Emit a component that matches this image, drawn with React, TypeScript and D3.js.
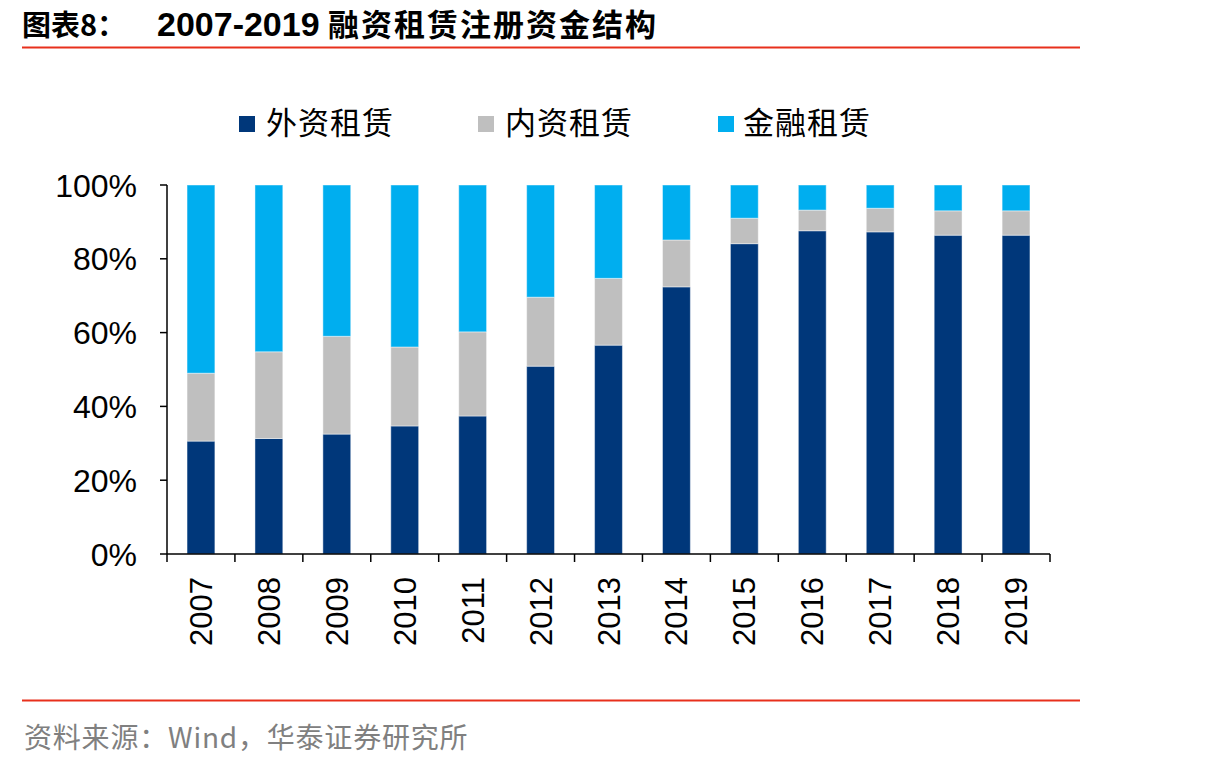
import React from "react";
import * as d3 from "d3";

const years = ["2007","2008","2009","2010","2011","2012","2013","2014","2015","2016","2017","2018","2019"];
const foreignLease = [30.6, 31.3, 32.5, 34.7, 37.4, 50.9, 56.6, 72.4, 84.1, 87.6, 87.3, 86.4, 86.4];
const domesticLease = [18.4, 23.5, 26.5, 21.4, 22.8, 18.7, 18.1, 12.7, 6.9, 5.6, 6.4, 6.6, 6.6];
const financeLease = [51.0, 45.2, 41.0, 43.9, 39.8, 30.4, 25.3, 14.9, 9.0, 6.8, 6.3, 7.0, 7.0];
const seriesNames = ["外资租赁", "内资租赁", "金融租赁"];
const seriesColors = ["#00377A", "#BFBFBF", "#00AEEF"];
const yTicks = [0, 0.2, 0.4, 0.6, 0.8, 1.0];
const titleLabel = "图表8：";
const titleYears = "2007-2019";
const titleText = "融资租赁注册资金结构";
const sourceText = "资料来源：Wind，华泰证券研究所";

export default function App() {
  const W = 1210, H = 768;
  const x0 = 167, x1 = 1050, yTop = 185, yBot = 554;
  const x = d3.scaleBand<string>().domain(years).range([x0, x1]).paddingInner(0.59).paddingOuter(0.295);
  const y = d3.scaleLinear().domain([0, 1]).range([yBot, yTop]);
  const fmt = d3.format(".0%");

  const rows = years.map((yr, i) => ({
    year: yr,
    s0: foreignLease[i],
    s1: domesticLease[i],
    s2: financeLease[i],
  }));
  const stack = d3.stack<any>().keys(["s0", "s1", "s2"]).offset(d3.stackOffsetExpand);
  const layers = stack(rows);

  const gap = (x.step() - x.bandwidth()) / 2;
  const tickXs = years.map((c) => (x(c) as number) - gap).concat([x1]);

  const legendItems = [
    { sx: 239, tx: 266 },
    { sx: 478, tx: 505 },
    { sx: 718, tx: 743 },
  ];

  return (
    <svg width={W} height={H} style={{ position: "absolute", left: 0, top: 0, background: "#fff" }}>
      {/* Title */}
      <text x={22} y={36} fontFamily="'Noto Sans CJK SC', sans-serif" fontWeight="bold" fontSize={29} fill="#000">{titleLabel}</text>
      <text x={157} y={36} fontFamily="'Liberation Sans', Arial, sans-serif" fontWeight="bold" fontSize={34} fill="#000">{titleYears}</text>
      <text x={328} y={36} fontFamily="'Noto Sans CJK SC', sans-serif" fontWeight="bold" fontSize={31} letterSpacing={2} fill="#000">{titleText}</text>
      <line x1={22} x2={1080} y1={47.5} y2={47.5} stroke="#E8301C" strokeWidth={2} />

      {/* Legend */}
      {legendItems.map((it, i) => (
        <g key={i}>
          <rect x={it.sx} y={116} width={16} height={16} fill={seriesColors[i]} />
          <text x={it.tx} y={134} fontFamily="'Noto Sans CJK SC', sans-serif" fontSize={31} letterSpacing={1} fill="#000">{seriesNames[i]}</text>
        </g>
      ))}

      {/* Bars */}
      {layers.map((layer, li) => (
        <g key={li} fill={seriesColors[li]}>
          {layer.map((d: any, di: number) => (
            <rect
              key={di}
              x={x(d.data.year)}
              y={y(d[1])}
              width={x.bandwidth()}
              height={y(d[0]) - y(d[1])}
              stroke="rgba(255,255,255,0.45)"
              strokeWidth={1}
            />
          ))}
        </g>
      ))}

      {/* Y axis */}
      <line x1={x0} x2={x0} y1={yTop} y2={yBot} stroke="#000" strokeWidth={1.5} />
      {yTicks.map((t) => (
        <g key={t}>
          <line x1={x0 - 7} x2={x0} y1={y(t)} y2={y(t)} stroke="#000" strokeWidth={1.5} />
          <text x={137} y={y(t)} dy="0.36em" textAnchor="end" fontFamily="'Liberation Sans', Arial, sans-serif" fontSize={32} fill="#000">{fmt(t)}</text>
        </g>
      ))}

      {/* X axis */}
      <line x1={x0} x2={x1} y1={yBot} y2={yBot} stroke="#000" strokeWidth={1.5} />
      {tickXs.map((tx, i) => (
        <line key={i} x1={tx} x2={tx} y1={yBot} y2={yBot + 8} stroke="#000" strokeWidth={1.5} />
      ))}
      {years.map((c) => {
        const cx = (x(c) as number) + x.bandwidth() / 2;
        return (
          <text
            key={c}
            transform={`translate(${cx + 11},577) rotate(-90)`}
            textAnchor="end"
            fontFamily="'Liberation Sans', Arial, sans-serif"
            fontSize={31}
            fill="#000"
          >{c}</text>
        );
      })}

      {/* Footer */}
      <line x1={22} x2={1080} y1={700.5} y2={700.5} stroke="#E8301C" strokeWidth={2} />
      <text x={24} y={748} fontFamily="'Noto Sans CJK SC', sans-serif" fontSize={28} letterSpacing={0.8} fill="#808080">{sourceText}</text>
    </svg>
  );
}
